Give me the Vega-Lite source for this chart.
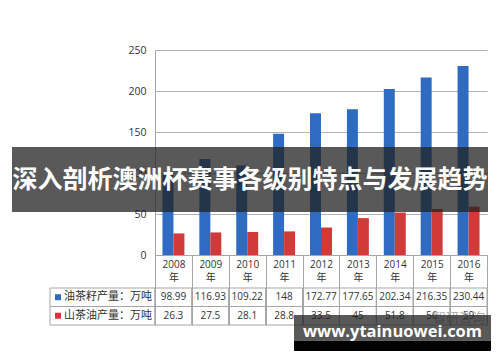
{
  "$schema": "https://vega.github.io/schema/vega-lite/v6.json",
  "width": 332,
  "height": 205,
  "autosize": {"type": "none"},
  "padding": {"left": 155, "top": 50, "right": 13, "bottom": 107},
  "background": "white",
  "config": {"view": {"stroke": null}, "font": "Open Sans, Noto Sans CJK SC"},
  "datasets": {
    "bars": [
      {"year": "2008", "series": "油茶籽产量：万吨", "value": 98.99},
      {"year": "2009", "series": "油茶籽产量：万吨", "value": 116.93},
      {"year": "2010", "series": "油茶籽产量：万吨", "value": 109.22},
      {"year": "2011", "series": "油茶籽产量：万吨", "value": 148},
      {"year": "2012", "series": "油茶籽产量：万吨", "value": 172.77},
      {"year": "2013", "series": "油茶籽产量：万吨", "value": 177.65},
      {"year": "2014", "series": "油茶籽产量：万吨", "value": 202.34},
      {"year": "2015", "series": "油茶籽产量：万吨", "value": 216.35},
      {"year": "2016", "series": "油茶籽产量：万吨", "value": 230.44},
      {"year": "2008", "series": "山茶油产量：万吨", "value": 26.3},
      {"year": "2009", "series": "山茶油产量：万吨", "value": 27.5},
      {"year": "2010", "series": "山茶油产量：万吨", "value": 28.1},
      {"year": "2011", "series": "山茶油产量：万吨", "value": 28.8},
      {"year": "2012", "series": "山茶油产量：万吨", "value": 33.5},
      {"year": "2013", "series": "山茶油产量：万吨", "value": 45},
      {"year": "2014", "series": "山茶油产量：万吨", "value": 51.8},
      {"year": "2015", "series": "山茶油产量：万吨", "value": 56},
      {"year": "2016", "series": "山茶油产量：万吨", "value": 59}
    ],
    "series": [
      {"series": "油茶籽产量：万吨"},
      {"series": "山茶油产量：万吨"}
    ]
  },
  "layer": [
    {
      "data": {"name": "bars"},
      "mark": {"type": "bar"},
      "encoding": {
        "x": {
          "field": "year", "type": "nominal",
          "scale": {"paddingInner": 0, "paddingOuter": 0},
          "axis": {
            "title": null, "labelAngle": 0, "domainColor": "#a6a6a6",
            "tickBand": "extent", "tickSize": 70, "tickColor": "#a6a6a6",
            "labelExpr": "datum.label ? [datum.label, '年'] : ''", "labelPadding": -66,
            "labelFontSize": 10, "labelLineHeight": 13, "labelColor": "#333333",
            "labelFont": "Open Sans, Noto Sans CJK SC"
          }
        },
        "xOffset": {
          "field": "series", "type": "nominal",
          "scale": {"domain": ["油茶籽产量：万吨", "山茶油产量：万吨"], "paddingInner": 0, "paddingOuter": 0.68}
        },
        "y": {
          "field": "value", "type": "quantitative",
          "scale": {"domain": [0, 250], "nice": false},
          "axis": {
            "title": null, "values": [0, 50, 100, 150, 200, 250], "ticks": false,
            "labelPadding": 9, "labelFontSize": 10.5, "labelColor": "#333333",
            "grid": true, "gridColor": "#b3b3b3", "domainColor": "#a6a6a6"
          }
        },
        "color": {
          "field": "series", "type": "nominal",
          "scale": {"domain": ["油茶籽产量：万吨", "山茶油产量：万吨"], "range": ["#2f6bc0", "#d23a3a"]},
          "legend": null
        }
      }
    },
    {
      "layer": [
        {
          "data": {"name": "bars"},
          "encoding": {
            "x": {"field": "year", "type": "nominal", "scale": {"paddingInner": 0, "paddingOuter": 0}, "axis": null},
            "y": {
              "field": "series", "type": "nominal",
              "scale": {"domain": ["油茶籽产量：万吨", "山茶油产量：万吨"], "range": [238, 275], "paddingInner": 0, "paddingOuter": 0},
              "axis": null
            }
          },
          "layer": [
            {"mark": {"type": "rect", "fillOpacity": 0, "stroke": "#a6a6a6", "strokeWidth": 1}},
            {
              "mark": {"type": "text", "fontSize": 10, "color": "#333333", "font": "Open Sans"},
              "encoding": {"text": {"field": "value", "type": "nominal"}}
            }
          ]
        },
        {
          "data": {"name": "series"},
          "encoding": {
            "y": {
              "field": "series", "type": "nominal",
              "scale": {"domain": ["油茶籽产量：万吨", "山茶油产量：万吨"], "range": [238, 275], "paddingInner": 0, "paddingOuter": 0},
              "axis": null
            }
          },
          "layer": [
            {
              "mark": {"type": "rect", "fillOpacity": 0, "stroke": "#a6a6a6", "strokeWidth": 1},
              "encoding": {
                "x": {"datum": "label", "type": "nominal", "scale": {"range": [-105, 0], "paddingInner": 0, "paddingOuter": 0}, "axis": null}
              }
            },
            {
              "mark": {"type": "text", "align": "right", "dx": -3, "fontSize": 11, "color": "#333333", "font": "Noto Sans CJK SC"},
              "encoding": {
                "x": {"datum": "label", "type": "nominal", "bandPosition": 1},
                "text": {"field": "series"}
              }
            },
            {
              "mark": {"type": "point", "shape": "square", "filled": true, "opacity": 1, "size": 36, "xOffset": 8},
              "encoding": {
                "x": {"datum": "label", "type": "nominal", "bandPosition": 0},
                "color": {"field": "series", "type": "nominal", "legend": null}
              }
            }
          ]
        }
      ],
      "resolve": {"scale": {"x": "independent"}}
    },
    {
      "data": {"values": [{"title": "深入剖析澳洲杯赛事各级别特点与发展趋势"}]},
      "encoding": {
        "x": {"datum": "banner", "type": "nominal", "scale": {"range": [-143, 333], "paddingInner": 0, "paddingOuter": 0}, "axis": null},
        "y": {"datum": "banner", "type": "nominal", "scale": {"range": [97, 162], "paddingInner": 0, "paddingOuter": 0}, "axis": null}
      },
      "layer": [
        {"mark": {"type": "rect", "fill": "#222222", "opacity": 0.75}},
        {
          "mark": {"type": "text", "color": "white", "fontSize": 25, "fontWeight": "bold", "font": "Noto Sans CJK SC"},
          "encoding": {"text": {"field": "title"}}
        }
      ]
    },
    {
      "data": {"values": [{"site": "www.ytainuowei.com", "brand": "智研咨询"}]},
      "encoding": {
        "x": {"datum": "wm", "type": "nominal", "scale": {"range": [139, 336], "paddingInner": 0, "paddingOuter": 0}, "axis": null}
      },
      "layer": [
        {
          "mark": {"type": "text", "align": "right", "dx": -6, "fontSize": 13, "color": "#b0b0b0", "font": "Noto Sans CJK SC"},
          "encoding": {
            "x": {"datum": "wm", "type": "nominal", "bandPosition": 1},
            "y": {"datum": 3, "type": "quantitative", "scale": {"domain": [0, 38], "range": [265, 303]}, "axis": null},
            "text": {"field": "brand"}
          }
        },
        {
          "mark": {"type": "rect", "fill": "#222222", "opacity": 0.75},
          "encoding": {
            "y": {"datum": 0, "type": "quantitative", "axis": null},
            "y2": {"datum": 27}
          }
        },
        {
          "mark": {"type": "rect", "fill": "#000000", "opacity": 1},
          "encoding": {
            "y": {"datum": 27, "type": "quantitative", "axis": null},
            "y2": {"datum": 38}
          }
        },
        {
          "mark": {"type": "text", "color": "white", "fontSize": 16.5, "fontWeight": "bold", "font": "Open Sans"},
          "encoding": {
            "y": {"datum": 18, "type": "quantitative", "axis": null},
            "text": {"field": "site"}
          }
        }
      ]
    }
  ],
  "resolve": {"scale": {"x": "independent", "y": "independent"}}
}
